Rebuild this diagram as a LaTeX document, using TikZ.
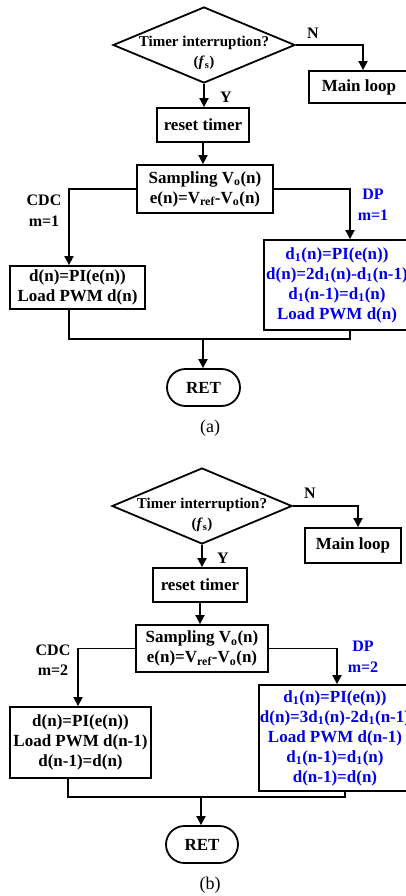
\documentclass[tikz,border=0pt]{standalone}
\usepackage{fontspec}
\setmainfont{Liberation Serif}
\usetikzlibrary{arrows.meta,shapes.geometric,shapes.misc}
\definecolor{dpblue}{RGB}{0,0,230}
\begin{document}
\begin{tikzpicture}[x=1pt,y=-1pt,
  every node/.style={font=\bfseries\fontsize{17}{20}\selectfont},
  box/.style={draw,line width=1.8pt,rectangle,inner sep=0pt,align=center},
  dia/.style={draw,line width=1.8pt,diamond,inner sep=0pt},
  ret/.style={draw,line width=1.8pt,rounded rectangle,inner sep=0pt,minimum width=73pt,minimum height=37pt},
  dtext/.style={align=center,inner sep=0pt,font=\bfseries\fontsize{15}{20}\selectfont},
  lbl/.style={align=center,inner sep=0pt,font=\bfseries\fontsize{16}{20.5}\selectfont},
  captxt/.style={inner sep=0pt,font=\fontsize{18}{20}\selectfont},
  conn/.style={line width=1.8pt},
  arr/.style={conn,-{Triangle[length=9pt,width=9pt]}}
]
\useasboundingbox (0,0) rectangle (406,896);

% ---------------- panel (a) ----------------
\node[dia,minimum width=182pt,minimum height=76pt] (da) at (204,45) {};
\node[dtext] (dta) at (204,53) {Timer interruption?\\(\textit{f}\textsubscript{s})};
\node[box,minimum width=100pt,minimum height=32pt] (mla) at (359,87) {Main loop};
\draw[arr] (da.east) -| ([xshift=4pt]mla.north);
\node[lbl] (na) at (313,33) {N};
\node[box,minimum width=92pt,minimum height=34pt] (rta) at (203,125) {reset timer};
\draw[arr] (da.south) -- (da.south |- rta.north);
\node[lbl] (ya) at (226,97) {Y};
\node[box,minimum width=136pt,minimum height=48pt] (sa) at (205,189)
  {Sampling V\textsubscript{o}(n)\\e(n)=V\textsubscript{ref}-V\textsubscript{o}(n)};
\draw[arr] (rta.south) -- (rta.south |- sa.north);
\node[box,minimum width=135pt,minimum height=43pt] (ca) at (77.5,287.5)
  {d(n)=PI(e(n))\\Load PWM d(n)};
\node[box,text=dpblue,minimum width=146pt,minimum height=90pt] (pa) at (337,285)
  {d\textsubscript{1}(n)=PI(e(n))\\d(n)=2d\textsubscript{1}(n)-d\textsubscript{1}(n-1)\\d\textsubscript{1}(n-1)=d\textsubscript{1}(n)\\Load PWM d(n)};
\draw[arr] (sa.west) -| ([xshift=-8.5pt]ca.north);
\draw[arr] (sa.east) -| ([xshift=13pt]pa.north);
\node[lbl] (cdca) at (44,210.5) {CDC\\m=1};
\node[lbl,text=dpblue] (dpa) at (373,205) {DP\\m=1};
\node[ret] (reta) at (203.5,387.5) {RET};
\coordinate (ja) at (203,339);
\draw[conn] ([xshift=-8.5pt]ca.south) |- (ja);
\draw[conn] ([xshift=13pt]pa.south) |- (ja);
\draw[arr] (ja) -- (ja |- reta.north);
\node[captxt] (capa) at (210,428) {(a)};

% ---------------- panel (b) ----------------
\node[dia,minimum width=180pt,minimum height=76pt] (db) at (202,506) {};
\node[dtext] (dtb) at (202,515) {Timer interruption?\\(\textit{f}\textsubscript{s})};
\node[box,minimum width=96pt,minimum height=35pt] (mlb) at (353,545.5) {Main loop};
\draw[arr] (db.east) -| ([xshift=5pt]mlb.north);
\node[lbl] (nb) at (310,493) {N};
\node[box,minimum width=94pt,minimum height=34pt] (rtb) at (200,585) {reset timer};
\draw[arr] (db.south) -- (db.south |- rtb.north);
\node[lbl] (yb) at (223,558) {Y};
\node[box,minimum width=132pt,minimum height=47pt] (sb) at (202,648.5)
  {Sampling V\textsubscript{o}(n)\\e(n)=V\textsubscript{ref}-V\textsubscript{o}(n)};
\draw[arr] (rtb.south) -- (rtb.south |- sb.north);
\node[box,minimum width=141pt,minimum height=71pt] (cb) at (80.5,742.5)
  {d(n)=PI(e(n))\\Load PWM d(n-1)\\d(n-1)=d(n)};
\node[box,text=dpblue,minimum width=152pt,minimum height=106pt] (pb) at (335,738)
  {d\textsubscript{1}(n)=PI(e(n))\\d(n)=3d\textsubscript{1}(n)-2d\textsubscript{1}(n-1)\\Load PWM d(n-1)\\d\textsubscript{1}(n-1)=d\textsubscript{1}(n)\\d(n-1)=d(n)};
\draw[arr] (sb.west) -| ([xshift=-2.5pt]cb.north);
\draw[arr] (sb.east) -| ([xshift=2pt]pb.north);
\node[lbl] (cdcb) at (53,660) {CDC\\m=2};
\node[lbl,text=dpblue] (dpb) at (363,657) {DP\\m=2};
\node[ret,minimum width=72pt] (retb) at (202,844.5) {RET};
\coordinate (jb) at (201,797);
\draw[conn] ([xshift=-12.5pt]cb.south) |- (jb);
\draw[conn] ([xshift=10pt]pb.south) |- (jb);
\draw[arr] (jb) -- (jb |- retb.north);
\node[captxt] (capb) at (210,885) {(b)};
\end{tikzpicture}
\end{document}
